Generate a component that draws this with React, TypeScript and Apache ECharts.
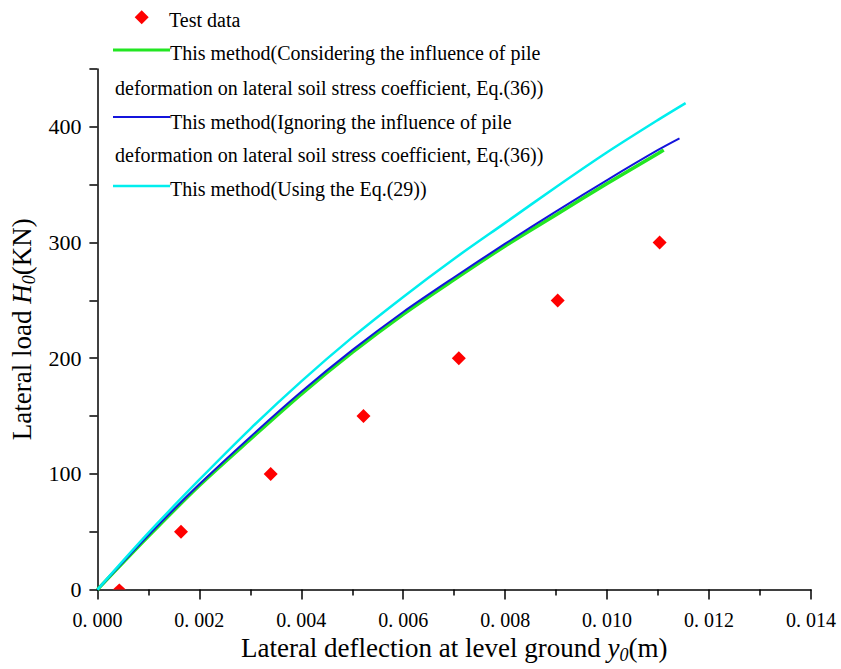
import React, { useEffect, useRef } from "react";
import * as echarts from "echarts";

const FONT = "Liberation Serif";

// Test data
const testX = [0.00043, 0.00164, 0.0034, 0.00522, 0.00709, 0.00903, 0.01103];
const testY = [0, 50, 100, 150, 200, 250, 300];

// This method (Considering ..., Eq.(36)) - green
const greenX = [0, 0.001, 0.002, 0.003, 0.004, 0.005, 0.006, 0.007, 0.008, 0.009, 0.01, 0.011, 0.01111];
const greenY = [0, 46, 90, 130, 169, 205, 238, 268, 297, 324, 351, 377, 380];

// This method (Ignoring ..., Eq.(36)) - blue
const blueX = [0, 0.001, 0.002, 0.003, 0.004, 0.005, 0.006, 0.007, 0.008, 0.009, 0.01, 0.011, 0.01142];
const blueY = [0, 47, 91, 132, 171, 207, 240, 270, 299, 327, 354, 380, 390];

// This method (Using the Eq.(29)) - cyan
const cyanX = [0, 0.001, 0.002, 0.003, 0.004, 0.005, 0.006, 0.007, 0.008, 0.009, 0.01, 0.011, 0.01154];
const cyanY = [0, 49, 95, 139, 180, 218, 253, 286, 317, 348, 378, 406, 420.5];

const legendLabels = [
  "Test data",
  "This method(Considering the influence of pile",
  "deformation on lateral soil stress coefficient, Eq.(36))",
  "This method(Ignoring the influence of pile",
  "deformation on lateral soil stress coefficient, Eq.(36))",
  "This method(Using the Eq.(29))",
];

const GREEN = "#22e622";
const BLUE = "#1414dc";
const CYAN = "#00eeee";
const RED = "#ff0000";

const pairs = (xs: number[], ys: number[]) => xs.map((x, i) => [x, ys[i]]);

export default function App() {
  const ref = useRef<HTMLDivElement>(null);
  useEffect(() => {
    if (!ref.current) return;
    const chart = echarts.init(ref.current, undefined, { renderer: "svg" });
    const testData: any[] = pairs(testX, testY).map((p) =>
      p[1] === 0
        ? { value: p, symbol: "triangle", symbolSize: [13, 6], symbolOffset: [0, -3] }
        : p
    );
    const legText = (text: string, x: number, y: number) => ({
      type: "text",
      x,
      y,
      silent: true,
      style: {
        text,
        fill: "#000",
        fontFamily: FONT,
        fontSize: 20,
        verticalAlign: "middle",
        align: "left",
      },
    });
    const sub = {
      fontFamily: FONT,
      fontStyle: "italic",
      fontSize: 18,
      lineHeight: 18,
      verticalAlign: "bottom",
      color: "#000",
    };
    const nm = { fontFamily: FONT, fontSize: 27, lineHeight: 32, color: "#000" };
    const it = { fontFamily: FONT, fontSize: 27, lineHeight: 32, fontStyle: "italic", color: "#000" };
    chart.setOption({
      animation: false,
      backgroundColor: "#fff",
      textStyle: { fontFamily: FONT },
      grid: { left: 96, right: 30, top: 69, bottom: 69, containLabel: false },
      xAxis: {
        type: "value",
        min: 0,
        max: 0.014,
        interval: 0.002,
        name: "{n|Lateral deflection at level ground }{i|y}{s|0}{n|(m)}",
        nameLocation: "middle",
        nameGap: 39,
        nameTextStyle: { fontFamily: FONT, rich: { n: nm, i: it, s: sub } },
        axisLine: { show: true, onZero: false, lineStyle: { color: "#000", width: 1.5 } },
        axisTick: { show: true, length: 10, lineStyle: { color: "#000", width: 1.5 } },
        minorTick: { show: true, splitNumber: 2, length: 6, lineStyle: { color: "#000", width: 1.5 } },
        splitLine: { show: false },
        axisLabel: {
          margin: 20,
          color: "#000",
          fontFamily: FONT,
          fontSize: 20,
          formatter: (v: number) => v.toFixed(3).replace(".", ". "),
        },
      },
      yAxis: {
        type: "value",
        min: 0,
        max: 450,
        interval: 50,
        name: "{n|Lateral load }{i|H}{s|0}{n|(KN)}",
        nameLocation: "middle",
        nameRotate: 90,
        nameGap: 54,
        nameTextStyle: { fontFamily: FONT, rich: { n: nm, i: it, s: sub } },
        axisLine: { show: true, onZero: false, lineStyle: { color: "#000", width: 1.5 } },
        axisTick: { show: true, length: 8, lineStyle: { color: "#000", width: 1.5 } },
        splitLine: { show: false },
        axisLabel: {
          margin: 16,
          color: "#000",
          fontFamily: FONT,
          fontSize: 22,
          formatter: (v: number) => (v % 100 === 0 ? String(v) : ""),
        },
      },
      series: [
        {
          name: legendLabels[0],
          type: "scatter",
          symbol: "diamond",
          symbolSize: 14,
          itemStyle: { color: RED, opacity: 1 },
          data: testData,
          z: 5,
        },
        {
          name: legendLabels[1],
          type: "line",
          smooth: 0.3,
          showSymbol: false,
          lineStyle: { color: GREEN, width: 3.5 },
          data: pairs(greenX, greenY),
          z: 2,
        },
        {
          name: legendLabels[3],
          type: "line",
          smooth: 0.3,
          showSymbol: false,
          lineStyle: { color: BLUE, width: 2 },
          data: pairs(blueX, blueY),
          z: 3,
        },
        {
          name: legendLabels[5],
          type: "line",
          smooth: 0.3,
          showSymbol: false,
          lineStyle: { color: CYAN, width: 2.5 },
          data: pairs(cyanX, cyanY),
          z: 4,
        },
      ],
      graphic: [
        {
          type: "polygon",
          silent: true,
          shape: { points: [[141.7, 10.3], [148.7, 17.3], [141.7, 24.3], [134.7, 17.3]] },
          style: { fill: RED },
        },
        legText(legendLabels[0], 169, 20),
        { type: "line", silent: true, shape: { x1: 113, y1: 50, x2: 170, y2: 50 }, style: { stroke: GREEN, lineWidth: 3 } },
        legText(legendLabels[1], 170, 53),
        legText(legendLabels[2], 115, 88),
        { type: "line", silent: true, shape: { x1: 113, y1: 117, x2: 170, y2: 117 }, style: { stroke: BLUE, lineWidth: 2 } },
        legText(legendLabels[3], 170, 122),
        legText(legendLabels[4], 115, 155),
        { type: "line", silent: true, shape: { x1: 113, y1: 186, x2: 170, y2: 186 }, style: { stroke: CYAN, lineWidth: 2.5 } },
        legText(legendLabels[5], 170, 189),
      ],
    });
    return () => chart.dispose();
  }, []);
  return (
    <div
      ref={ref}
      style={{ position: "fixed", left: 0, top: 0, width: 841, height: 669, background: "#fff" }}
    />
  );
}
